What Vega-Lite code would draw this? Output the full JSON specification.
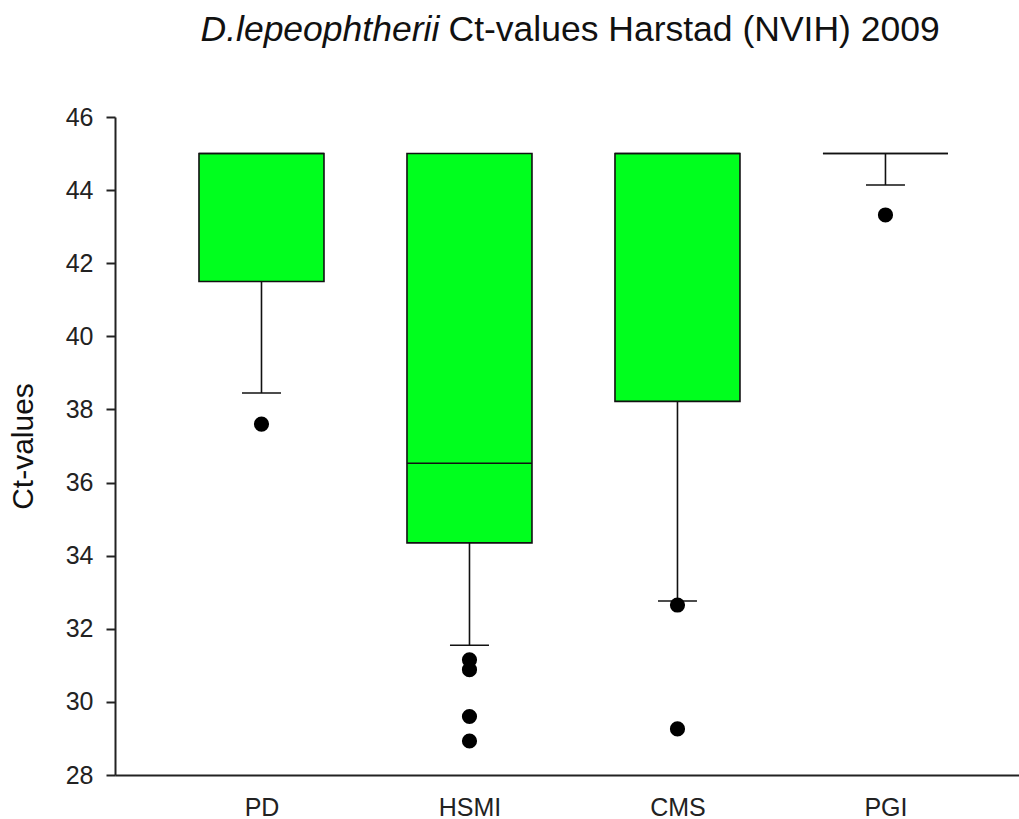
{
  "$schema": "https://vega.github.io/schema/vega-lite/v6.json",
  "width": 904,
  "height": 658,
  "autosize": "none",
  "padding": {"left": 115, "top": 117, "right": 0, "bottom": 44},
  "background": "white",
  "config": {
    "view": {"stroke": null},
    "font": "Liberation Sans",
    "axisY": {
      "domainColor": "#222222",
      "domainWidth": 2,
      "tickColor": "#222222",
      "tickWidth": 2,
      "tickSize": 9,
      "labelPadding": 13,
      "labelFontSize": 25,
      "labelColor": "#222222",
      "labelFont": "Liberation Sans",
      "grid": false,
      "titleFontSize": 30,
      "titleFontWeight": "normal",
      "titleFont": "Liberation Sans",
      "titleColor": "#111111",
      "titlePadding": 27
    }
  },
  "datasets": {
    "boxes": [
      {"group": "PD", "pos": 1, "q1": 41.5, "q3": 45.0, "median": 45.0, "lo": 38.45},
      {"group": "HSMI", "pos": 2, "q1": 34.35, "q3": 45.0, "median": 36.53, "lo": 31.55},
      {"group": "CMS", "pos": 3, "q1": 38.22, "q3": 45.0, "median": 45.0, "lo": 32.76},
      {"group": "PGI", "pos": 4, "q1": 45.0, "q3": 45.0, "median": 45.0, "lo": 44.14}
    ],
    "outliers": [
      {"group": "PD", "pos": 1, "value": 37.6},
      {"group": "HSMI", "pos": 2, "value": 31.15},
      {"group": "HSMI", "pos": 2, "value": 30.88},
      {"group": "HSMI", "pos": 2, "value": 29.6},
      {"group": "HSMI", "pos": 2, "value": 28.93},
      {"group": "CMS", "pos": 3, "value": 32.65},
      {"group": "CMS", "pos": 3, "value": 29.26},
      {"group": "PGI", "pos": 4, "value": 43.32}
    ]
  },
  "resolve": {"axis": {"x": "independent"}},
  "layer": [
    {
      "data": {"name": "boxes"},
      "mark": {"type": "rule", "color": "#111111", "strokeWidth": 1.6},
      "encoding": {
        "x": {
          "field": "pos",
          "type": "quantitative",
          "scale": {"domain": [0.2957, 4.642], "nice": false, "zero": false, "padding": 0},
          "axis": {
            "orient": "bottom",
            "title": "Ct-values Harstad (NVIH) 2009",
            "titleFont": "Liberation Sans",
            "titleFontSize": 35.5,
            "titleFontWeight": "normal",
            "titleColor": "#111111",
            "titleAlign": "left",
            "titleAnchor": "start",
            "titleBaseline": "alphabetic",
            "titleX": 333,
            "titleY": -735,
            "values": [1, 2, 3, 4],
            "labelExpr": "datum.value == 1 ? 'PD' : datum.value == 2 ? 'HSMI' : datum.value == 3 ? 'CMS' : 'PGI'",
            "ticks": false,
            "tickSize": 0,
            "grid": false,
            "domainColor": "#222222",
            "domainWidth": 2,
            "labelFontSize": 25,
            "labelFont": "Liberation Sans",
            "labelColor": "#222222",
            "labelPadding": 20,
            "labelBaseline": "top"
          }
        },
        "y": {"field": "q1", "type": "quantitative", "title": "Ct-values", "scale": {"domain": [28, 46], "nice": false, "zero": false, "padding": 0}, "axis": {"values": [28, 30, 32, 34, 36, 38, 40, 42, 44, 46]}},
        "y2": {"field": "lo"}
      }
    },
    {
      "data": {"name": "boxes"},
      "mark": {"type": "bar", "width": 125, "fill": "#00FF1E", "stroke": "#111111", "strokeWidth": 1.6},
      "encoding": {
        "x": {"field": "pos", "type": "quantitative", "scale": {"domain": [0.2957, 4.642], "nice": false, "zero": false, "padding": 0}, "axis": null},
        "y": {"field": "q3", "type": "quantitative", "title": "Ct-values", "scale": {"domain": [28, 46], "nice": false, "zero": false, "padding": 0}, "axis": {"values": [28, 30, 32, 34, 36, 38, 40, 42, 44, 46]}},
        "y2": {"field": "q1"}
      }
    },
    {
      "data": {"name": "boxes"},
      "mark": {"type": "tick", "orient": "horizontal", "size": 39, "thickness": 1.6, "color": "#111111", "opacity": 1},
      "encoding": {
        "x": {"field": "pos", "type": "quantitative", "scale": {"domain": [0.2957, 4.642], "nice": false, "zero": false, "padding": 0}, "axis": null},
        "y": {"field": "lo", "type": "quantitative", "title": "Ct-values", "scale": {"domain": [28, 46], "nice": false, "zero": false, "padding": 0}, "axis": {"values": [28, 30, 32, 34, 36, 38, 40, 42, 44, 46]}}
      }
    },
    {
      "data": {"name": "boxes"},
      "mark": {"type": "tick", "orient": "horizontal", "size": 125, "thickness": 1.6, "color": "#111111", "opacity": 1},
      "encoding": {
        "x": {"field": "pos", "type": "quantitative", "scale": {"domain": [0.2957, 4.642], "nice": false, "zero": false, "padding": 0}, "axis": null},
        "y": {"field": "median", "type": "quantitative", "title": "Ct-values", "scale": {"domain": [28, 46], "nice": false, "zero": false, "padding": 0}, "axis": {"values": [28, 30, 32, 34, 36, 38, 40, 42, 44, 46]}}
      }
    },
    {
      "data": {"name": "outliers"},
      "mark": {"type": "point", "shape": "circle", "filled": true, "size": 230, "color": "#000000", "opacity": 1},
      "encoding": {
        "x": {
          "field": "pos",
          "type": "quantitative",
          "scale": {"domain": [0.2957, 4.642], "nice": false, "zero": false, "padding": 0},
          "axis": {
            "orient": "top",
            "title": "D.lepeophtherii",
            "titleFontStyle": "italic",
            "titleFontWeight": "normal",
            "titleFont": "Liberation Sans",
            "titleFontSize": 35.5,
            "titleColor": "#111111",
            "titleAlign": "left",
            "titleAnchor": "start",
            "titleBaseline": "alphabetic",
            "titleX": 85,
            "titleY": -77,
            "labels": false,
            "ticks": false,
            "domain": false,
            "grid": false
          }
        },
        "y": {"field": "value", "type": "quantitative", "title": "Ct-values", "scale": {"domain": [28, 46], "nice": false, "zero": false, "padding": 0}, "axis": {"values": [28, 30, 32, 34, 36, 38, 40, 42, 44, 46]}}
      }
    }
  ]
}
